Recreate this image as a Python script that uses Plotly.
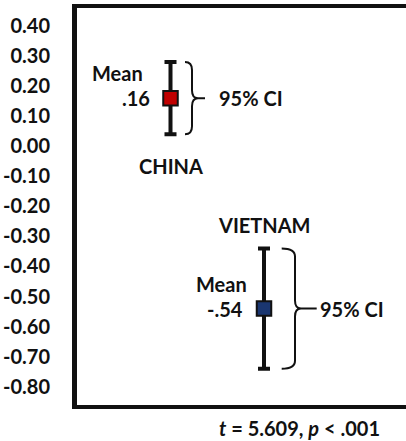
import plotly.graph_objects as go

# ---- data ----
groups = ["CHINA", "VIETNAM"]
means = [0.16, -0.54]
ci_low = [0.04, -0.74]
ci_high = [0.28, -0.34]
mean_labels = [".16", "-.54"]
tick_vals = [0.40, 0.30, 0.20, 0.10, 0.00, -0.10, -0.20, -0.30, -0.40, -0.50, -0.60, -0.70, -0.80]
tick_text = ["0.40", "0.30", "0.20", "0.10", "0.00", "-0.10", "-0.20", "-0.30", "-0.40", "-0.50", "-0.60", "-0.70", "-0.80"]
stat_text = "<i>t</i> = 5.609, <i>p</i> &lt; .001"

# ---- layout / style ----
W, H = 406, 441
ML, MR, MT, MB = 77, 0, 8, 36
PW, PH = W - ML - MR, H - MT - MB
Y_RANGE = [-0.8608, 0.4599]
group_x = [0.2842, 0.5684]
colors = ["#C00000", "#1A3670"]
FONT = "Lato, Carlito, Calibri, sans-serif"
INK = "#111111"
TXT = 20

# brace geometry in pixels relative to bar: (left end, spine, tip)
brace_px = [(14.5, 21.5, 34.5), (17.7, 31.0, 52.7)]
ci_text_dx = [46, 54]
mean_word_dx = [-53.5, -43]
group_label_dy = [-32, 23]  # relative to ci_low (China below) / ci_high (Vietnam above)

dx_unit = 1.0 / PW
dy_unit = (Y_RANGE[1] - Y_RANGE[0]) / PH

fig = go.Figure()

for i in range(len(groups)):
    err_plus = ci_high[i] - means[i]
    err_minus = means[i] - ci_low[i]
    fig.add_trace(go.Scatter(
        x=[group_x[i]], y=[means[i]], mode="markers",
        marker=dict(symbol="square", size=14.5, color=colors[i],
                    line=dict(color=INK, width=2)),
        error_y=dict(type="data", symmetric=False, array=[err_plus],
                     arrayminus=[err_minus], color=INK, thickness=4, width=6),
        showlegend=False, hoverinfo="skip",
    ))

    # curly brace
    xl = group_x[i] + brace_px[i][0] * dx_unit
    xs = group_x[i] + brace_px[i][1] * dx_unit
    xt = group_x[i] + brace_px[i][2] * dx_unit
    yt, yb, ym = ci_high[i], ci_low[i], means[i]
    r = 8 * dy_unit
    k = 6 * dx_unit
    path = (f"M {xl},{yt} Q {xs},{yt} {xs},{yt - r} "
            f"L {xs},{ym + r} Q {xs},{ym} {xs + k},{ym} L {xt},{ym} "
            f"M {xs + k},{ym} Q {xs},{ym} {xs},{ym - r} "
            f"L {xs},{yb + r} Q {xs},{yb} {xl},{yb}")
    fig.add_shape(type="path", path=path, xref="x", yref="y",
                  line=dict(color=INK, width=2))

    # annotations
    fig.add_annotation(x=group_x[i], y=means[i], text="Mean", showarrow=False,
                       xanchor="center", yanchor="middle",
                       xshift=mean_word_dx[i], yshift=25,
                       font=dict(family=FONT, size=TXT, color=INK, weight="bold"))
    fig.add_annotation(x=group_x[i], y=means[i], text=mean_labels[i], showarrow=False,
                       xanchor="right", yanchor="middle", xshift=-19,
                       font=dict(family=FONT, size=TXT, color=INK, weight="bold"))
    fig.add_annotation(x=group_x[i], y=means[i], text="95% CI", showarrow=False,
                       xanchor="left", yanchor="middle", xshift=ci_text_dx[i],
                       font=dict(family=FONT, size=TXT, color=INK, weight="bold"))
    label_y = ci_low[i] if group_label_dy[i] < 0 else ci_high[i]
    fig.add_annotation(x=group_x[i], y=label_y, text=groups[i], showarrow=False,
                       xanchor="center", yanchor="middle", yshift=group_label_dy[i],
                       font=dict(family=FONT, size=TXT, color=INK, weight="bold"))

fig.add_annotation(x=0.675, y=0, xref="paper", yref="paper", text=stat_text,
                   showarrow=False, xanchor="center", yanchor="middle", yshift=-23,
                   font=dict(family=FONT, size=TXT, color=INK, weight="bold"))

fig.update_layout(
    width=W, height=H,
    margin=dict(l=ML, r=MR, t=MT, b=MB),
    paper_bgcolor="white", plot_bgcolor="white",
    xaxis=dict(range=[0, 1], showgrid=False, zeroline=False, showticklabels=False,
               ticks="", showline=True, linecolor=INK, linewidth=4, mirror=True,
               fixedrange=True),
    yaxis=dict(range=Y_RANGE, showgrid=False, zeroline=False,
               tickvals=tick_vals, ticktext=tick_text, ticks="",
               ticklabelstandoff=18,
               tickfont=dict(family=FONT, size=TXT, color=INK, weight="bold"),
               showline=True, linecolor=INK, linewidth=5, mirror=False,
               fixedrange=True),
)

fig.write_html("out.html", config={"displayModeBar": False},
               post_script="document.body.style.margin='0px';document.body.style.overflow='hidden';")
